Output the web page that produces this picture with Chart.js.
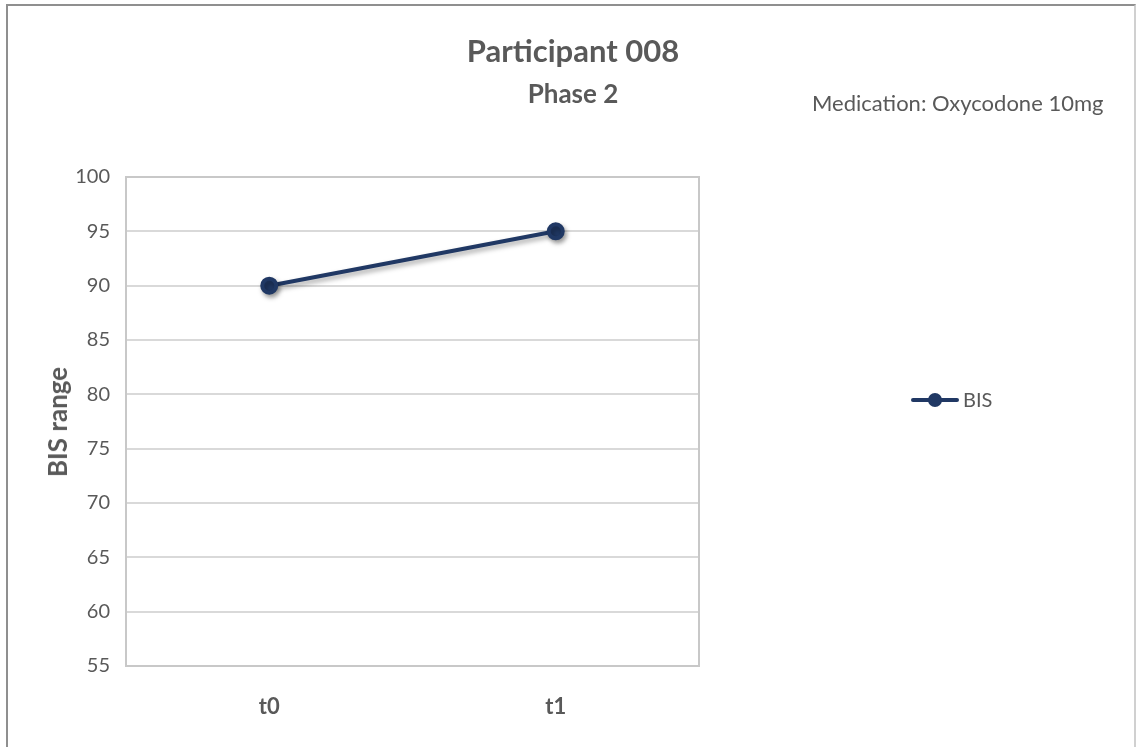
<!DOCTYPE html>
<html>
<head>
<meta charset="utf-8">
<script src="https://cdn.jsdelivr.net/npm/chart.js@4/dist/chart.umd.min.js"></script>
<style>
  html, body { margin: 0; padding: 0; background: #ffffff; }
  #wrap { position: relative; width: 1139px; height: 747px; overflow: hidden; background: #fff; font-family: Lato, "Open Sans", sans-serif; }
  #frame { position: absolute; left: 6px; top: 4px; width: 1130px; height: 800px; border: 2px solid #8f8f8f; border-right-color: #d0d0d0; box-sizing: border-box; }
  canvas { position: absolute; left: 0; top: 0; }
  .txt { position: absolute; color: #595959; white-space: nowrap; }
  #title { left: 373px; width: 400px; text-align: center; top: 31px; font-size: 31px; font-weight: 700; }
  #subtitle { left: 373px; width: 400px; text-align: center; top: 77px; font-size: 26px; font-weight: 700; }
  #note { left: 812px; top: 89px; font-size: 22px; }
  #ytitle { left: 57px; top: 422px; font-size: 26px; font-weight: 700; transform: translate(-50%, -50%) rotate(-90deg); }
</style>
</head>
<body>
<div id="wrap">
  <div id="frame"></div>
  <canvas id="chart" width="1139" height="747"></canvas>
  <div class="txt" id="title">Participant 008</div>
  <div class="txt" id="subtitle">Phase 2</div>
  <div class="txt" id="note">Medication: Oxycodone 10mg</div>
  <div class="txt" id="ytitle">BIS range</div>
</div>
<script>
// Measurement times and BIS readings
const timepoints = ["t0", "t1"];
const bisValues = [90, 95];
const seriesName = "BIS";
const yMin = 55;
const yMax = 100;
const yStep = 5;

const navy = "#203864";
const grey = "#595959";

// Outline of the plot area, drawn beneath the line
const plotBox = {
  id: "plotBox",
  beforeDatasetsDraw(chart) {
    const a = chart.chartArea, ctx = chart.ctx;
    ctx.save();
    ctx.strokeStyle = "#c8c8c8";
    ctx.lineWidth = 2;
    ctx.strokeRect(a.left, a.top, a.right - a.left, a.bottom - a.top);
    ctx.restore();
  }
};

// Soft drop shadow under the series
const lineShadow = {
  id: "lineShadow",
  beforeDatasetDraw(chart) {
    const ctx = chart.ctx;
    ctx.save();
    ctx.shadowColor = "rgba(0,0,0,0.35)";
    ctx.shadowBlur = 5;
    ctx.shadowOffsetX = 2;
    ctx.shadowOffsetY = 3;
  },
  afterDatasetDraw(chart) {
    chart.ctx.restore();
  }
};

// Legend entry to the right of the plot
const sideLegend = {
  id: "sideLegend",
  afterDraw(chart) {
    const ctx = chart.ctx;
    const ds = chart.data.datasets[0];
    const y = 400, x0 = 913, x1 = 957;
    ctx.save();
    ctx.strokeStyle = ds.borderColor;
    ctx.lineWidth = 4;
    ctx.lineCap = "round";
    ctx.beginPath();
    ctx.moveTo(x0, y);
    ctx.lineTo(x1, y);
    ctx.stroke();
    ctx.fillStyle = ds.pointBackgroundColor;
    ctx.beginPath();
    ctx.arc((x0 + x1) / 2, y, 7, 0, Math.PI * 2);
    ctx.fill();
    ctx.fillStyle = grey;
    ctx.font = "20px Lato";
    ctx.textBaseline = "middle";
    ctx.fillText(ds.label, 963, y + 1);
    ctx.restore();
  }
};

new Chart(document.getElementById("chart"), {
  type: "line",
  data: {
    labels: timepoints,
    datasets: [{
      label: seriesName,
      data: bisValues,
      borderColor: navy,
      backgroundColor: navy,
      pointBackgroundColor: navy,
      pointBorderColor: navy,
      borderWidth: 4,
      pointRadius: 7,
      pointHoverRadius: 7,
      tension: 0
    }]
  },
  options: {
    responsive: false,
    animation: false,
    events: [],
    layout: { padding: { left: 0, top: 177, right: 440, bottom: 0 } },
    plugins: {
      legend: { display: false },
      title: { display: false },
      tooltip: { enabled: false }
    },
    scales: {
      x: {
        type: "category",
        offset: true,
        grid: { display: false, drawTicks: false },
        border: { display: false },
        ticks: { color: grey, font: { family: "Lato", size: 22, weight: "bold" }, padding: 28 },
        afterFit(scale) { scale.height = 747 - 666; }
      },
      y: {
        min: yMin,
        max: yMax,
        grid: { color: "#d9d9d9", lineWidth: 2, drawTicks: false },
        border: { display: false },
        ticks: { stepSize: yStep, color: grey, font: { family: "Lato", size: 20 }, padding: 16 },
        afterFit(scale) { scale.width = 126; }
      }
    }
  },
  plugins: [plotBox, lineShadow, sideLegend]
});
</script>
</body>
</html>
